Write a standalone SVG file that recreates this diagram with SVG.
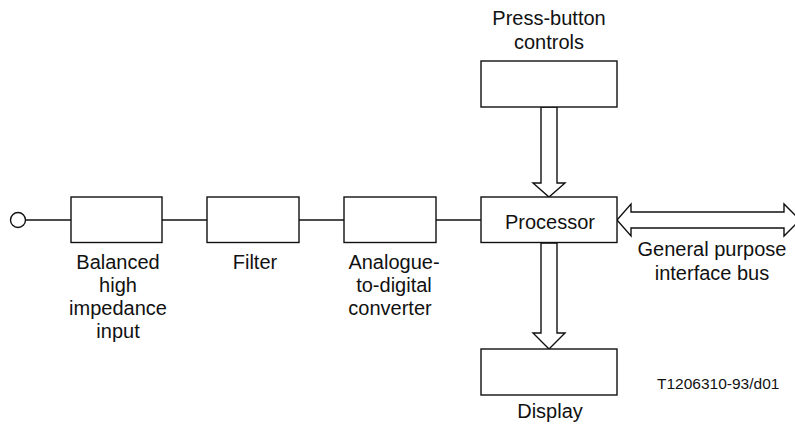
<svg xmlns="http://www.w3.org/2000/svg" width="795" height="426" viewBox="0 0 795 426">
  <style>
    .box { fill: #fff; stroke: #111; stroke-width: 1.4; }
    .wire { fill: none; stroke: #111; stroke-width: 1.4; }
    .arrow { fill: #fff; stroke: #111; stroke-width: 1.4; stroke-linejoin: miter; }
    .lbl { font-family: "Liberation Sans", Arial, sans-serif; font-size: 20px; fill: #111; text-anchor: middle; }
    .ref { font-family: "Liberation Sans", Arial, sans-serif; font-size: 15.5px; fill: #111; text-anchor: start; }
  </style>
  <rect width="795" height="426" fill="#fff"/>

  <!-- signal path wires and wide data arrows -->
  <g id="connectors">
    <circle class="wire" cx="18" cy="220" r="7.5"/>
    <line class="wire" x1="25.5" y1="220" x2="71" y2="220"/>
    <line class="wire" x1="162" y1="220" x2="207" y2="220"/>
    <line class="wire" x1="299" y1="220" x2="344" y2="220"/>
    <line class="wire" x1="436" y1="220" x2="481" y2="220"/>
    <polygon class="arrow" points="541,107 541,183 533,183 549,197 565,183 557,183 557,107"/>
    <polygon class="arrow" points="541,243 541,333 533,333 549,349 565,333 557,333 557,243"/>
    <polygon class="arrow" points="617,220 631,204 631,212 784,212 784,204 800,220 784,236 784,228 631,228 631,236"/>
  </g>

  <g id="input">
    <rect class="box" x="71" y="197" width="91" height="45.5"/>
    <text class="lbl" x="118" y="269">Balanced</text>
    <text class="lbl" x="118" y="292">high</text>
    <text class="lbl" x="118" y="315">impedance</text>
    <text class="lbl" x="118" y="338">input</text>
  </g>

  <g id="filter">
    <rect class="box" x="207" y="197" width="92" height="45.5"/>
    <text class="lbl" x="255" y="269">Filter</text>
  </g>

  <g id="adc">
    <rect class="box" x="344" y="197" width="92" height="45.5"/>
    <text class="lbl" x="394" y="269">Analogue-</text>
    <text class="lbl" x="394" y="292">to-digital</text>
    <text class="lbl" x="390" y="315">converter</text>
  </g>

  <g id="processor">
    <rect class="box" x="481" y="197" width="136" height="45.5"/>
    <text class="lbl" x="550" y="229">Processor</text>
  </g>

  <g id="controls">
    <text class="lbl" x="549" y="25">Press-button</text>
    <text class="lbl" x="549" y="49">controls</text>
    <rect class="box" x="481" y="61" width="136" height="46"/>
  </g>

  <g id="display">
    <rect class="box" x="481" y="349" width="136" height="46"/>
    <text class="lbl" x="550" y="418">Display</text>
  </g>

  <g id="bus-label">
    <text class="lbl" x="712" y="256">General purpose</text>
    <text class="lbl" x="712" y="280">interface bus</text>
  </g>

  <text class="ref" x="657" y="389">T1206310-93/d01</text>
</svg>
